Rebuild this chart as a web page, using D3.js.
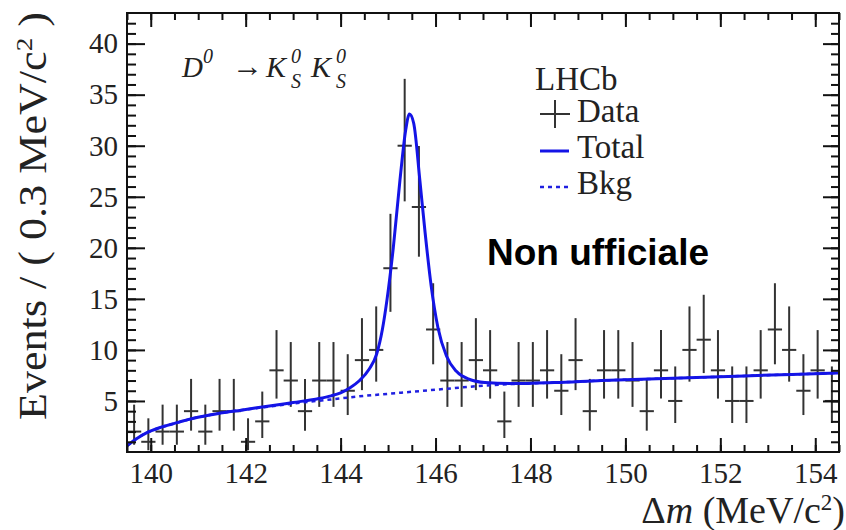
<!DOCTYPE html>
<html>
<head>
<meta charset="utf-8">
<script src="https://cdn.jsdelivr.net/npm/d3@7"></script>
<style>
body { margin: 0; background: #fff; }
svg text { font-family: "Liberation Serif", "Times New Roman", serif; fill: #222; }
</style>
</head>
<body>
<svg id="chart" width="846" height="530"></svg>
<script>
// histogram binning (MeV/c^2)
var binStart = 139.5, binWidth = 0.3;

// events per bin
var counts = [2, 1, 2, 2, 4, 2, 4, 4, 1, 3,
              8, 7, 4, 7, 7, 6, 9, 10, 18, 30,
              24, 12, 7, 7, 9, 8, 3, 7, 7, 8,
              6, 9, 4, 8, 8, 7, 4, 8, 5, 10,
              11, 8, 5, 5, 8, 12, 10, 6, 8, 5];

// asymmetric error bars
var errLo = [1.29, 0.83, 1.29, 1.29, 1.91, 1.29, 1.91, 1.91, 0.83, 1.63,
             2.77, 2.58, 1.91, 2.58, 2.58, 2.38, 2.94, 3.11, 4.27, 5.45,
             4.87, 3.41, 2.58, 2.58, 2.94, 2.77, 1.63, 2.58, 2.58, 2.77,
             2.38, 2.94, 1.91, 2.77, 2.77, 2.58, 1.91, 2.77, 2.16, 3.11,
             3.27, 2.77, 2.16, 2.16, 2.77, 3.41, 3.11, 2.38, 2.77, 2.16];
var errHi = [2.64, 2.30, 2.64, 2.64, 3.16, 2.64, 3.16, 3.16, 2.30, 2.92,
             3.94, 3.77, 3.16, 3.77, 3.77, 3.58, 4.11, 4.26, 5.33, 6.55,
             5.97, 4.53, 3.77, 3.77, 4.11, 3.94, 2.92, 3.77, 3.77, 3.94,
             3.58, 4.11, 3.16, 3.94, 3.94, 3.77, 3.16, 3.94, 3.38, 4.26,
             4.40, 3.94, 3.38, 3.38, 3.94, 4.53, 4.26, 3.58, 3.94, 3.38];

// fit curves [dm, events]
var bkgCurve = [[139.5, 0.6], [139.7, 1.3], [139.9, 1.85], [140.2, 2.4], [140.5, 2.8],
                [140.9, 3.3], [141.4, 3.75], [141.9, 4.1], [142.5, 4.45], [143.0, 4.75],
                [143.5, 5.0], [144.0, 5.25], [144.5, 5.5], [145.0, 5.7], [145.5, 5.9],
                [146.0, 6.1], [146.5, 6.3], [147.0, 6.5], [147.6, 6.65], [148.5, 6.8],
                [149.5, 7.0], [150.5, 7.15], [151.5, 7.3], [152.5, 7.45], [153.5, 7.6],
                [154.5, 7.75]];
var totalCurve = [[139.5, 0.6], [139.7, 1.3], [139.9, 1.85], [140.2, 2.4], [140.5, 2.8],
                  [140.9, 3.3], [141.4, 3.75], [141.9, 4.1], [142.5, 4.5], [143.0, 4.85],
                  [143.5, 5.2], [143.8, 5.5], [144.0, 5.8], [144.2, 6.3], [144.4, 7.0],
                  [144.6, 8.1], [144.76, 9.6], [144.88, 12.0], [144.98, 15.0], [145.11, 20.0],
                  [145.25, 26.6], [145.37, 31.5], [145.45, 33.1], [145.54, 32.2], [145.67, 26.6],
                  [145.78, 21.5], [145.91, 16.2], [146.05, 12.2], [146.23, 9.4], [146.44, 7.9],
                  [146.72, 7.1], [147.04, 6.8], [147.6, 6.7], [148.5, 6.8], [149.5, 7.0],
                  [150.5, 7.15], [151.5, 7.3], [152.5, 7.45], [153.5, 7.6], [154.5, 7.75]];

var xTicks = [140, 142, 144, 146, 148, 150, 152, 154];
var yTicks = [5, 10, 15, 20, 25, 30, 35, 40];

var svg = d3.select("#chart");
var L = 127, R = 839, T = 13, B = 452;
var x = d3.scaleLinear().domain([139.5, 154.5]).range([L, R]);
var y = d3.scaleLinear().domain([0, 43]).range([B, T]);

svg.append("clipPath").attr("id", "plotclip")
    .append("rect").attr("x", L).attr("y", T).attr("width", R - L).attr("height", B - T);

var plot = svg.append("g").attr("clip-path", "url(#plotclip)");

// data points
var points = counts.map(function (n, i) {
    var lo = binStart + i * binWidth;
    return {x0: lo, x1: lo + binWidth, xc: lo + binWidth / 2, n: n, lo: n - errLo[i], hi: n + errHi[i]};
});

var pts = plot.selectAll("g.pt").data(points).enter().append("g").attr("class", "pt");
pts.append("line")
    .attr("x1", function (d) { return x(d.xc); })
    .attr("x2", function (d) { return x(d.xc); })
    .attr("y1", function (d) { return y(d.lo); })
    .attr("y2", function (d) { return y(d.hi); })
    .attr("stroke", "#333").attr("stroke-width", 2);
pts.append("line")
    .attr("x1", function (d) { return x(d.x0); })
    .attr("x2", function (d) { return x(d.x1); })
    .attr("y1", function (d) { return y(d.n); })
    .attr("y2", function (d) { return y(d.n); })
    .attr("stroke", "#333").attr("stroke-width", 2);

// curves
var line = d3.line()
    .x(function (d) { return x(d[0]); })
    .y(function (d) { return y(d[1]); })
    .curve(d3.curveMonotoneX);

plot.append("path").datum(bkgCurve)
    .attr("d", line).attr("fill", "none")
    .attr("stroke", "#2020e0").attr("stroke-width", 2.5)
    .attr("stroke-dasharray", "4,4");
plot.append("path").datum(totalCurve)
    .attr("d", line).attr("fill", "none")
    .attr("stroke", "#1414e6").attr("stroke-width", 3);

// axes
function styleAxis(g) {
    g.select(".domain").remove();
    g.selectAll(".tick line").attr("stroke", "#111").attr("stroke-width", 2);
    g.selectAll(".tick text").attr("fill", "#222")
        .style("font-family", "'Liberation Serif', 'Times New Roman', serif")
        .style("font-size", "29px");
}

var xMinor = d3.range(139.5, 154.51, 0.5);
var yMinor = d3.range(1, 43, 1);

svg.append("g").attr("transform", "translate(0," + B + ")")
    .call(d3.axisBottom(x).tickValues(xMinor).tickSize(-7).tickFormat(""))
    .call(styleAxis);
svg.append("g").attr("transform", "translate(0," + B + ")")
    .call(d3.axisBottom(x).tickValues(xTicks).tickSize(-14).tickPadding(10).tickFormat(d3.format("d")))
    .call(styleAxis);
svg.append("g").attr("transform", "translate(0," + T + ")")
    .call(d3.axisTop(x).tickValues(xMinor).tickSize(-7).tickFormat(""))
    .call(styleAxis);
svg.append("g").attr("transform", "translate(0," + T + ")")
    .call(d3.axisTop(x).tickValues(xTicks).tickSize(-14).tickFormat(""))
    .call(styleAxis);

svg.append("g").attr("transform", "translate(" + L + ",0)")
    .call(d3.axisLeft(y).tickValues(yMinor).tickSize(-9).tickFormat(""))
    .call(styleAxis);
svg.append("g").attr("transform", "translate(" + L + ",0)")
    .call(d3.axisLeft(y).tickValues(yTicks).tickSize(-18).tickPadding(9).tickFormat(d3.format("d")))
    .call(styleAxis);
svg.append("g").attr("transform", "translate(" + R + ",0)")
    .call(d3.axisRight(y).tickValues(yMinor).tickSize(-8).tickFormat(""))
    .call(styleAxis);
svg.append("g").attr("transform", "translate(" + R + ",0)")
    .call(d3.axisRight(y).tickValues(yTicks).tickSize(-16).tickFormat(""))
    .call(styleAxis);

svg.append("rect")
    .attr("x", L).attr("y", T).attr("width", R - L).attr("height", B - T)
    .attr("fill", "none").attr("stroke", "#111").attr("stroke-width", 2);

// axis titles
svg.append("text")
    .attr("transform", "translate(46,420) rotate(-90)")
    .attr("textLength", 408).attr("lengthAdjust", "spacingAndGlyphs")
    .style("font-size", "39px")
    .html('Events / ( 0.3 MeV/c<tspan dy="-14" font-size="24px">2</tspan><tspan dy="14"> )</tspan>');

svg.append("text")
    .attr("x", 845).attr("y", 523)
    .attr("text-anchor", "end")
    .style("font-size", "38px")
    .html('Δ<tspan font-style="italic">m</tspan> (MeV/c<tspan dy="-13" font-size="23px">2</tspan><tspan dy="13">)</tspan>');

// decay label
var decay = [
    {t: "D", x: 182, y: 77, s: 29},
    {t: "0", x: 203, y: 63, s: 20},
    {t: "K", x: 266, y: 77, s: 30},
    {t: "0", x: 291, y: 63, s: 20},
    {t: "S", x: 291, y: 88, s: 20},
    {t: "K", x: 311, y: 77, s: 30},
    {t: "0", x: 336, y: 63, s: 20},
    {t: "S", x: 336, y: 88, s: 20}
];
svg.selectAll("text.decay").data(decay).enter().append("text")
    .attr("class", "decay")
    .attr("x", function (d) { return d.x; })
    .attr("y", function (d) { return d.y; })
    .style("font-style", "italic")
    .style("font-size", function (d) { return d.s + "px"; })
    .text(function (d) { return d.t; });
svg.append("text")
    .attr("x", 232).attr("y", 76)
    .attr("textLength", 31).attr("lengthAdjust", "spacingAndGlyphs")
    .style("font-size", "30px")
    .text("→");

// legend
svg.append("text").attr("x", 535).attr("y", 90).style("font-size", "33px").text("LHCb");
var legendRows = [
    {label: "Data", y: 122},
    {label: "Total", y: 158},
    {label: "Bkg", y: 194}
];
svg.selectAll("text.leg").data(legendRows).enter().append("text")
    .attr("class", "leg")
    .attr("x", 577).attr("y", function (d) { return d.y; })
    .style("font-size", "33px")
    .text(function (d) { return d.label; });

svg.append("line").attr("x1", 540).attr("x2", 570).attr("y1", 114).attr("y2", 114)
    .attr("stroke", "#333").attr("stroke-width", 2);
svg.append("line").attr("x1", 555).attr("x2", 555).attr("y1", 100).attr("y2", 128)
    .attr("stroke", "#333").attr("stroke-width", 2);
svg.append("line").attr("x1", 540).attr("x2", 569).attr("y1", 151).attr("y2", 151)
    .attr("stroke", "#1414e6").attr("stroke-width", 3);
svg.append("line").attr("x1", 540).attr("x2", 569).attr("y1", 187).attr("y2", 187)
    .attr("stroke", "#2020e0").attr("stroke-width", 2.5).attr("stroke-dasharray", "4,4");

// watermark
svg.append("text")
    .attr("x", 487).attr("y", 265)
    .style("font-family", "'Liberation Sans', Arial, sans-serif")
    .style("font-weight", "bold")
    .style("font-size", "37px")
    .style("fill", "#000")
    .text("Non ufficiale");
</script>
</body>
</html>
